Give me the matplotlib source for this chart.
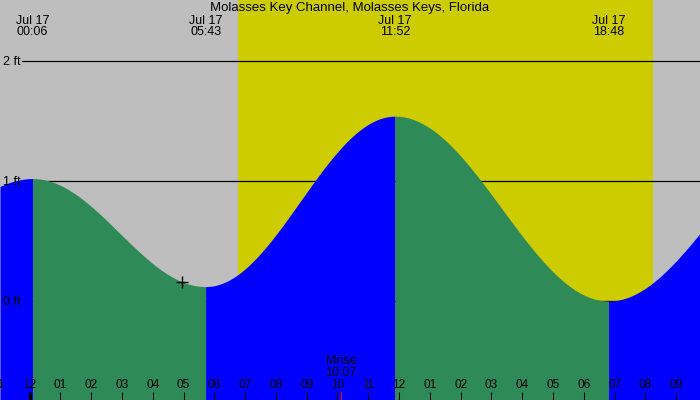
import numpy as np
import matplotlib
matplotlib.use("Agg")
import matplotlib.pyplot as plt
import matplotlib.transforms as mtransforms

# ---------------- data ----------------
title = "Molasses Key Channel, Molasses Keys, Florida"
date_label = "Jul 17"
# tide extremes: hours after midnight Jul 17, height in feet
tide_times = [-6.2, 0.1, 5.717, 11.867, 18.8, 25.3]
tide_heights = [0.05, 1.02, 0.12, 1.54, 0.0, 1.3]
event_labels = ["00:06", "05:43", "11:52", "18:48"]   # extremes 1..4
sunrise = 6 + 46 / 60
sunset = 20 + 14 / 60
moonrise = 10 + 7 / 60
moonrise_label = "Mrise\n10:07"
now_time = 4.95
hour_ticks = list(range(-1, 22))
hour_labels = ["11", "12", "01", "02", "03", "04", "05", "06", "07", "08", "09",
               "10", "11", "12", "01", "02", "03", "04", "05", "06", "07", "08", "09"]
ft_levels = [0, 1, 2]
ft_labels = ["0 ft", "1 ft", "2 ft"]

# ---------------- style ----------------
GRAY = "#bebebe"
YELLOW = "#cccc00"
BLUE = "#0000ff"
GREEN = "#2e8b57"
plt.rcParams["font.family"] = ["Liberation Sans", "DejaVu Sans"]

t_min, t_max = -0.958, 21.77
y_min, y_max = -0.825, 2.508

fig = plt.figure(figsize=(7, 4), dpi=100)
ax = fig.add_axes([0, 0, 1, 1])
ax.set_xlim(t_min, t_max)
ax.set_ylim(y_min, y_max)
ax.axis("off")
ax.add_patch(plt.Rectangle((0, 0), 1, 1, transform=ax.transAxes, color=GRAY, zorder=0))
ax.axvspan(sunrise, sunset, color=YELLOW, zorder=1, lw=0)

# level lines (behind water)
yt = mtransforms.blended_transform_factory(ax.transAxes, ax.transData)
for lv, lab in zip(ft_levels, ft_labels):
    ax.axhline(lv, xmin=22 / 700, xmax=1, color="black", lw=0.9, zorder=2)
    ax.text(3 / 700, lv - 1.5 / 120, lab, transform=yt,
            ha="left", va="center", fontsize=9, zorder=6)

# tide curve via cosine interpolation between extremes
def tide(t):
    t = np.asarray(t, dtype=float)
    out = np.empty_like(t)
    for i in range(len(tide_times) - 1):
        a, b = tide_times[i], tide_times[i + 1]
        m = (t >= a) & (t <= b)
        f = (t[m] - a) / (b - a)
        ha, hb = tide_heights[i], tide_heights[i + 1]
        out[m] = ha + (hb - ha) * (1 - np.cos(np.pi * f)) / 2
    return out

for i in range(len(tide_times) - 1):
    a, b = max(tide_times[i], t_min), min(tide_times[i + 1], t_max)
    if a >= b:
        continue
    tt = np.linspace(a, b, 400)
    col = BLUE if tide_heights[i + 1] > tide_heights[i] else GREEN
    ax.fill_between(tt, y_min, tide(tt), color=col, lw=0, zorder=3)

# current-time marker
ax.plot([now_time], tide([now_time]), marker="+", color="black", ms=9, mew=1, zorder=7)

# header labels
ax.text(0.5, 1 - 7.5 / 400, title, transform=ax.transAxes, ha="center", va="center", fontsize=9.5)
xt = mtransforms.blended_transform_factory(ax.transData, ax.transAxes)
for tt, lab in zip(tide_times[1:5], event_labels):
    ax.text(tt, 1 - 26.5 / 400, f"{date_label}\n{lab}", transform=xt, ha="center", va="center",
            fontsize=9, linespacing=0.95)

# hour ticks
for h, lab in zip(hour_ticks, hour_labels):
    lw = 3 if h == 0 else 1
    ax.plot([h, h], [0, 8 / 400], transform=xt, color="black", lw=lw * 0.75, zorder=6,
            solid_capstyle="butt")
    ax.text(h, (400 - 385.5) / 400, lab, transform=xt, ha="center", va="center", fontsize=8.5, zorder=6)

# moonrise
ax.plot([moonrise, moonrise], [0, 8 / 400], transform=xt, color="red", lw=0.75, zorder=6)
ax.text(moonrise, (400 - 367) / 400, moonrise_label, transform=xt, ha="center", va="center",
        fontsize=9, linespacing=0.95, zorder=6)

fig.savefig("out.png", dpi=100)
